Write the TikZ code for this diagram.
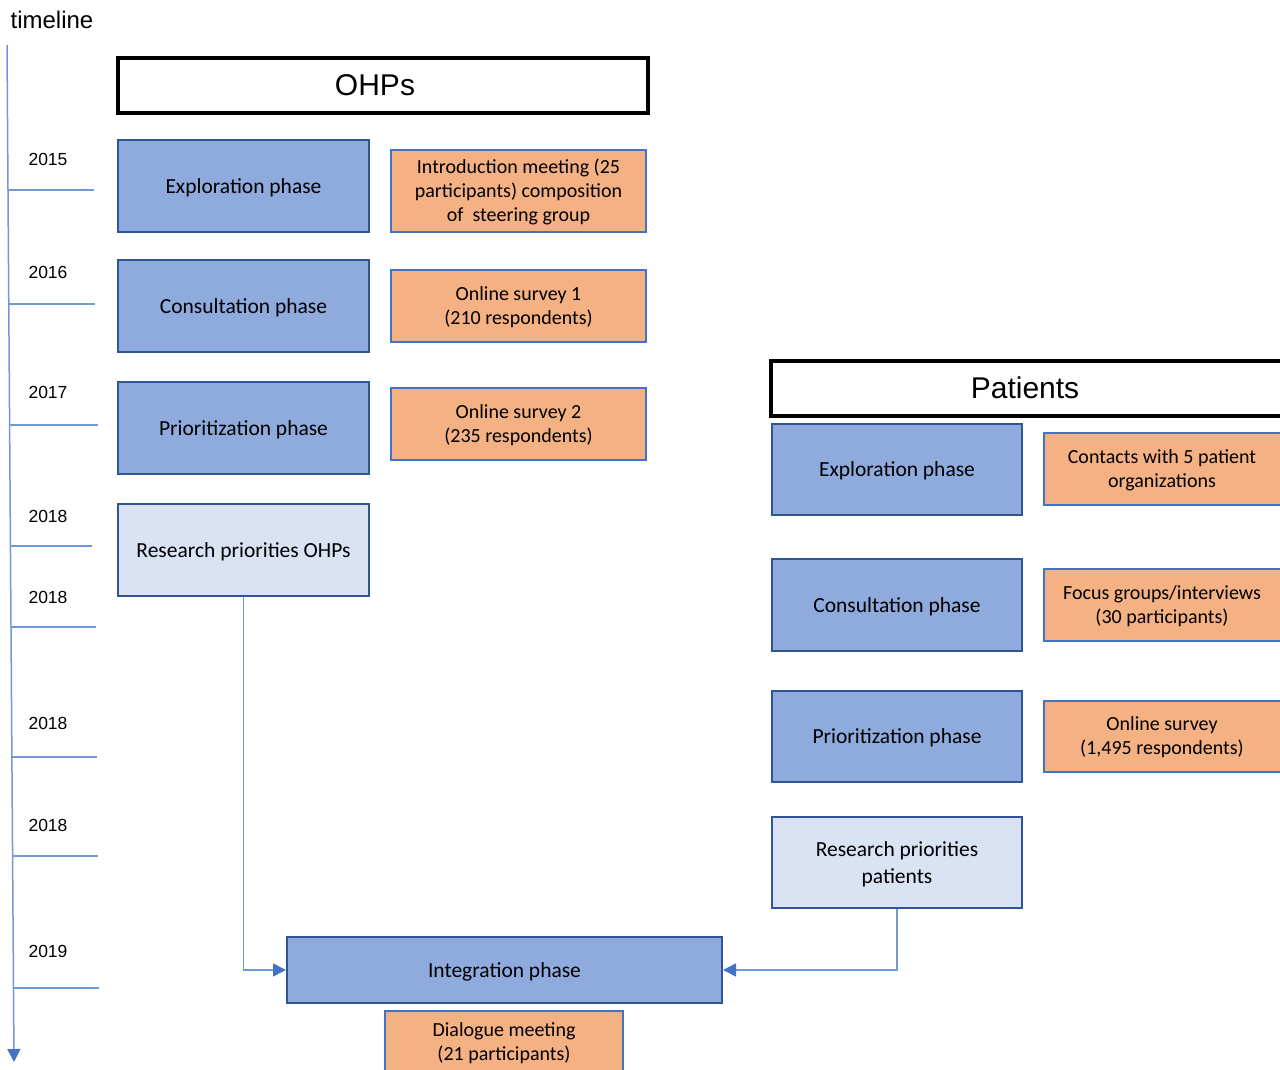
\documentclass[tikz,border=0pt]{standalone}
\usepackage{fontspec}
\setmainfont{Carlito}
\newfontfamily\arialf{Liberation Sans}
\usetikzlibrary{arrows.meta,fit}
\definecolor{bmid}{HTML}{8FAADC}
\definecolor{bdark}{HTML}{2F5597}
\definecolor{blight}{HTML}{DAE3F3}
\definecolor{orng}{HTML}{F4B183}
\definecolor{oborder}{HTML}{4472C4}
\definecolor{tlc}{HTML}{7398DA}
\definecolor{ahead}{HTML}{4472C4}
\tikzset{
  phase/.style={draw=bdark, fill=bmid, line width=2pt, inner sep=0pt},
  lightphase/.style={phase, fill=blight},
  info/.style={draw=oborder, fill=orng, line width=2pt, inner sep=0pt},
  head/.style={draw=black, fill=white, line width=4pt, inner sep=0pt},
  headtxt/.style={font=\arialf\fontsize{30}{36}\selectfont},
  phasetxt/.style={font=\fontsize{21.5}{27}\selectfont, align=center, yshift=-1.5pt},
  infotxt/.style={font=\fontsize{20}{24}\selectfont, align=center, yshift=-1pt},
  yearlbl/.style={font=\arialf\fontsize{17.5}{20}\selectfont},
  tickline/.style={draw=tlc, line width=1.2pt},
  conn/.style={draw=tlc, line width=1.5pt, -{Triangle[length=13pt,width=13pt,color=ahead]}}
}
\begin{document}
\begin{tikzpicture}[x=1pt,y=-1pt]
\useasboundingbox (0,0) rectangle (1280,1070);
\clip (0,0) rectangle (1280,1070);
% timeline
\node[font=\arialf\fontsize{24}{28}\selectfont] (tltitle) at (52,20) {timeline};
\coordinate (tltop) at (7,45);
\coordinate (tlbot) at (14,1062);
\draw[conn] (tltop) -- (tlbot);
\draw[tickline] (8,190) -- (94,190);
\draw[tickline] (9,304) -- (95,304);
\draw[tickline] (10,425) -- (98,425);
\draw[tickline] (10.5,546) -- (92,546);
\draw[tickline] (11,627) -- (96,627);
\draw[tickline] (12,757) -- (97,757);
\draw[tickline] (12.5,856) -- (98,856);
\draw[tickline] (13.5,988) -- (99,988);
\node[yearlbl] (y1) at (48,159) {2015};
\node[yearlbl] (y2) at (48,272) {2016};
\node[yearlbl] (y3) at (48,392) {2017};
\node[yearlbl] (y4) at (48,516) {2018};
\node[yearlbl] (y5) at (48,597) {2018};
\node[yearlbl] (y6) at (48,723) {2018};
\node[yearlbl] (y7) at (48,825) {2018};
\node[yearlbl] (y8) at (48,951) {2019};
% OHPs
\node[head, fit={(118,58) (648,113)}] (ohps) {};
\node[headtxt] (ohpst) at (375,85) {OHPs};
\node[phase, fit={(118,140) (369,232)}] (oexp) {};
\node[phasetxt] at (oexp.center) {Exploration phase};
\node[phase, fit={(118,260) (369,352)}] (ocon) {};
\node[phasetxt] at (ocon.center) {Consultation phase};
\node[phase, fit={(118,382) (369,474)}] (opri) {};
\node[phasetxt] at (opri.center) {Prioritization phase};
\node[lightphase, fit={(118,504) (369,596)}] (ores) {};
\node[phasetxt] at (ores.center) {Research priorities OHPs};
\node[info, fit={(391,150) (646,232)}] (oi1) {};
\node[infotxt] at (oi1.center) {Introduction meeting (25\\participants) composition\\of \ steering group};
\node[info, fit={(391,270) (646,342)}] (oi2) {};
\node[infotxt] at (oi2.center) {Online survey 1\\(210 respondents)};
\node[info, fit={(391,388) (646,460)}] (oi3) {};
\node[infotxt] at (oi3.center) {Online survey 2\\(235 respondents)};
% Patients
\node[head, fit={(771,361) (1283,416)}] (pats) {};
\node[headtxt] (patst) at (1025,388) {Patients};
\node[phase, fit={(772,424) (1022,515)}] (pexp) {};
\node[phasetxt] at (pexp.center) {Exploration phase};
\node[phase, fit={(772,559) (1022,651)}] (pcon) {};
\node[phasetxt] at (pcon.center) {Consultation phase};
\node[phase, fit={(772,691) (1022,782)}] (ppri) {};
\node[phasetxt] at (ppri.center) {Prioritization phase};
\node[lightphase, fit={(772,817) (1022,908)}] (pres) {};
\node[phasetxt] at (pres.center) {Research priorities\\patients};
\node[info, fit={(1044,433) (1282,505)}] (pi1) {};
\node[infotxt] at (1162,469) {Contacts with 5 patient\\organizations};
\node[info, fit={(1044,569) (1282,641)}] (pi2) {};
\node[infotxt] at (1162,605) {Focus groups/interviews\\(30 participants)};
\node[info, fit={(1044,701) (1282,772)}] (pi3) {};
\node[infotxt] at (1162,736) {Online survey\\(1,495 respondents)};
% integration
\node[phase, fit={(287,937) (722,1003)}] (integ) {};
\node[phasetxt] at (integ.center) {Integration phase};
\node[info, fit={(385,1011) (623,1074)}] (dial) {};
\node[infotxt] at (504,1042) {Dialogue meeting\\(21 participants)};
% connectors
\draw[conn] (ores.south) |- (integ.west);
\draw[conn] (pres.south) |- (integ.east);
\end{tikzpicture}
\end{document}
